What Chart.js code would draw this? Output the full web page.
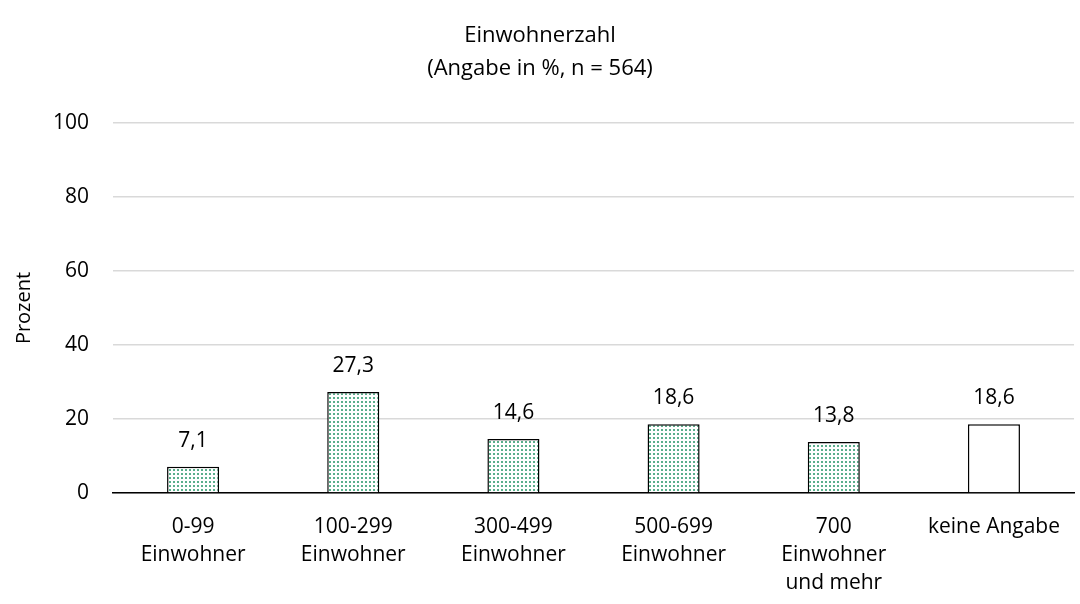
<!DOCTYPE html>
<html>
<head>
<meta charset="utf-8">
<script src="https://cdn.jsdelivr.net/npm/chart.js@4"></script>
<style>
    html, body { margin: 0; padding: 0; background: #fff; }
    #wrap { width: 1080px; height: 604px; }
</style>
</head>
<body>
<div id="wrap"><canvas id="chart"></canvas></div>
<script>
const categories = [
    ['0-99', 'Einwohner'],
    ['100-299', 'Einwohner'],
    ['300-499', 'Einwohner'],
    ['500-699', 'Einwohner'],
    ['700', 'Einwohner', 'und mehr'],
    'keine Angabe'
];
const values = [7.1, 27.3, 14.6, 18.6, 13.8, 18.6];
const yTicks = [0, 20, 40, 60, 80, 100];

const FONT = '"Open Sans", sans-serif';

// gepunktetes Muster für die Balken
function dotPattern() {
    const c = document.createElement('canvas');
    c.width = 4; c.height = 4;
    const g = c.getContext('2d');
    g.fillStyle = '#ffffff';
    g.fillRect(0, 0, 4, 4);
    g.fillStyle = '#5aae8c';
    g.fillRect(1, 1, 2, 2);
    return g.createPattern(c, 'repeat');
}
const pattern = dotPattern();
const fills = values.map((v, i) => i === values.length - 1 ? '#ffffff' : pattern);

const valueLabels = {
    id: 'valueLabels',
    afterDatasetsDraw(chart) {
        const ctx = chart.ctx;
        const meta = chart.getDatasetMeta(0);
        ctx.save();
        ctx.font = '21px ' + FONT;
        ctx.fillStyle = '#000';
        ctx.textAlign = 'center';
        ctx.textBaseline = 'middle';
        meta.data.forEach((bar, i) => {
            ctx.fillText(values[i].toFixed(1).replace('.', ','), bar.x, bar.y - 26);
        });
        ctx.restore();
    }
};

new Chart(document.getElementById('chart'), {
    type: 'bar',
    data: {
        labels: categories,
        datasets: [{
            data: values,
            backgroundColor: fills,
            borderColor: '#000',
            borderWidth: 1.5,
            categoryPercentage: 1,
            barPercentage: 0.325
        }]
    },
    options: {
        responsive: true,
        maintainAspectRatio: false,
        animation: false,
        layout: { padding: { top: 0, right: 0, bottom: 0, left: 0 } },
        plugins: {
            legend: { display: false },
            tooltip: { enabled: false },
            title: {
                display: true,
                text: ['Einwohnerzahl', '(Angabe in %, n = 564)'],
                color: '#000',
                font: { family: FONT, size: 22, weight: 'normal', lineHeight: 1.5 },
                padding: { top: 19, bottom: 38 }
            }
        },
        scales: {
            x: {
                afterFit: s => { s.height = 111; },
                grid: { display: false, drawTicks: false },
                border: { color: '#000', width: 1.5 },
                ticks: {
                    color: '#000',
                    font: { family: FONT, size: 21, lineHeight: 1.33 },
                    padding: 20,
                    maxRotation: 0,
                    autoSkip: false
                }
            },
            y: {
                min: 0,
                max: 100,
                afterBuildTicks: s => { s.ticks = yTicks.map(v => ({ value: v })); },
                afterFit: s => { s.width = 113; },
                grid: { color: '#d9d9d9', lineWidth: 1.5, drawTicks: false },
                border: { display: false },
                ticks: {
                    color: '#000',
                    font: { family: FONT, size: 21 },
                    padding: 24
                },
                title: {
                    display: true,
                    text: 'Prozent',
                    color: '#000',
                    font: { family: FONT, size: 20 },
                    padding: { top: 12, bottom: 0 }
                }
            }
        }
    },
    plugins: [valueLabels]
});
</script>
</body>
</html>
